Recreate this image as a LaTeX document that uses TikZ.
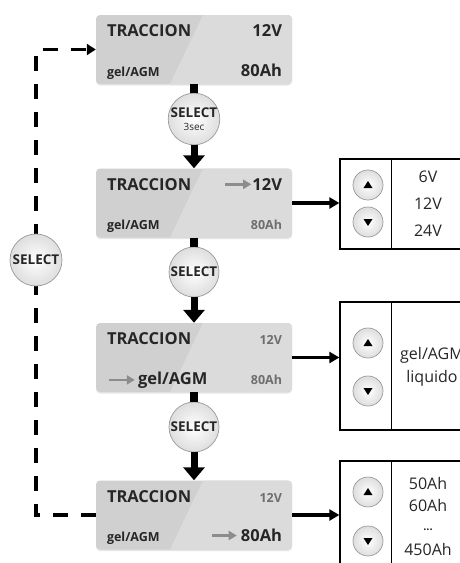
\documentclass[tikz,border=0pt]{standalone}
\usepackage{fontspec}
\setmainfont{Open Sans}
\usetikzlibrary{calc,shadows,arrows.meta}
\definecolor{boxgray}{HTML}{D0D0D0}
\definecolor{boxlight}{HTML}{DBDBDB}
\definecolor{txtdark}{HTML}{262626}
\definecolor{txtgray}{HTML}{6E6E6E}
\definecolor{ringgray}{HTML}{9A9A9A}
\definecolor{hintgray}{HTML}{8C8C8C}
\begin{document}
\begin{tikzpicture}[x=1pt,y=-1pt,
  lcd/.style={rectangle, rounded corners=4pt, minimum width=196pt, minimum height=69pt, inner sep=0pt, fill=boxgray,
    drop shadow={opacity=0.2, shadow xshift=0pt, shadow yshift=-1.5pt},
    path picture={\fill[boxlight, sharp corners] ($(path picture bounding box.north west)+(107,0)$) -- (path picture bounding box.north east) -- (path picture bounding box.south east) -- ($(path picture bounding box.south west)+(74,0)$) -- cycle;}},
  bigtxt/.style={inner sep=0pt, font=\fontsize{16.5}{18}\selectfont\bfseries, text=txtdark},
  smalltxt/.style={inner sep=0pt, font=\fontsize{12.5}{14}\selectfont\bfseries, text=txtdark},
  dimtxt/.style={smalltxt, text=txtgray},
  hint/.style={draw=hintgray, line width=2.8pt, -{Triangle[length=8pt,width=9pt]}},
  selbtn/.style={circle, minimum size=50pt, inner sep=0pt, draw=ringgray, line width=0.7pt, inner color=white, outer color=black!13,
    align=center, font=\fontsize{13.5}{12}\selectfont\bfseries, text=txtdark},
  stub/.style={line width=8pt},
  push/.style={line width=7pt, -{Triangle[length=13pt,width=21pt]}},
  link/.style={line width=3.5pt, -{Triangle[length=10pt,width=11pt]}},
  dashline/.style={line width=3.5pt, dash pattern=on 15pt off 13pt, -{Triangle[length=9pt,width=11pt]}},
  panel/.style={rectangle, draw, line width=1.3pt, inner sep=0pt, minimum width=132pt},
  btn/.style={circle, minimum size=30pt, inner sep=0pt, draw=ringgray, line width=0.7pt, inner color=white, outer color=black!13},
  upbtn/.style={btn, path picture={\fill[black] ($(path picture bounding box.center)+(-4.5,3)$) -- ($(path picture bounding box.center)+(4.5,3)$) -- ($(path picture bounding box.center)+(0,-4)$) -- cycle;}},
  downbtn/.style={btn, path picture={\fill[black] ($(path picture bounding box.center)+(-4.5,-3)$) -- ($(path picture bounding box.center)+(4.5,-3)$) -- ($(path picture bounding box.center)+(0,4)$) -- cycle;}},
  listtxt/.style={align=center, inner sep=0pt, text=txtdark}]
  \useasboundingbox (0,0) rectangle (459,563);

  % display states
  \node[lcd] (b1) at (194,49.5) {};
  \node[lcd] (b2) at (194,203) {};
  \node[lcd] (b3) at (194,357.5) {};
  \node[lcd] (b4) at (194,515) {};

  \node[bigtxt, anchor=base west] (b1mode) at ($(b1.north west)+(11,22)$) {TRACCION};
  \node[bigtxt, anchor=base east] (b1volt) at ($(b1.north east)+(-10,22)$) {12V};
  \node[smalltxt, anchor=base west] (b1type) at ($(b1.south west)+(11,-8)$) {gel/AGM};
  \node[bigtxt, anchor=base east] (b1cap) at ($(b1.south east)+(-10,-8)$) {80Ah};

  \node[bigtxt, anchor=base west] (b2mode) at ($(b2.north west)+(11,22)$) {TRACCION};
  \node[bigtxt, anchor=base east] (b2volt) at ($(b2.north east)+(-10,22)$) {12V};
  \node[smalltxt, anchor=base west] (b2type) at ($(b2.south west)+(11,-8)$) {gel/AGM};
  \node[dimtxt, anchor=base east] (b2cap) at ($(b2.south east)+(-10,-8)$) {80Ah};
  \draw[hint] ([xshift=-27pt]b2volt.west) -- ([xshift=-1pt]b2volt.west);

  \node[bigtxt, anchor=base west] (b3mode) at ($(b3.north west)+(11,22)$) {TRACCION};
  \node[dimtxt, anchor=base east] (b3volt) at ($(b3.north east)+(-10,22)$) {12V};
  \node[bigtxt, anchor=base west] (b3type) at ($(b3.south west)+(42,-8)$) {gel/AGM};
  \node[dimtxt, anchor=base east] (b3cap) at ($(b3.south east)+(-10,-8)$) {80Ah};
  \draw[hint] ([xshift=-29pt]b3type.west) -- ([xshift=-3pt]b3type.west);

  \node[bigtxt, anchor=base west] (b4mode) at ($(b4.north west)+(11,22)$) {TRACCION};
  \node[dimtxt, anchor=base east] (b4volt) at ($(b4.north east)+(-10,22)$) {12V};
  \node[smalltxt, anchor=base west] (b4type) at ($(b4.south west)+(11,-8)$) {gel/AGM};
  \node[bigtxt, anchor=base east] (b4cap) at ($(b4.south east)+(-10,-8)$) {80Ah};
  \draw[hint] ([xshift=-29pt]b4cap.west) -- ([xshift=-4pt]b4cap.west);

  % return loop
  \coordinate (loopx) at (36,260);
  \draw[dashline] (b4.west) -- (b4.west -| loopx) -- (b1.west -| loopx) -- (b1.west);
  \node[selbtn, minimum size=52pt] (sl) at (loopx) {SELECT};

  % select buttons
  \node[selbtn] (s1) at (194,119) {SELECT\\[0.5pt]{\fontsize{10}{10}\selectfont\mdseries 3sec}};
  \node[selbtn] (s2) at (194,272) {SELECT};
  \node[selbtn] (s3) at (194,427) {SELECT};
  \draw[stub] (b1.south) -- (s1.north);
  \draw[push] (s1.south) -- (b2.north);
  \draw[stub] (b2.south) -- (s2.north);
  \draw[push] (s2.south) -- (b3.north);
  \draw[stub] (b3.south) -- (s3.north);
  \draw[push] (s3.south) -- (b4.north);

  % option panels
  \node[panel, minimum height=90pt] (p1) at (406,204) {};
  \node[panel, minimum height=128pt] (p2) at (406,366) {};
  \node[panel, minimum height=119pt] (p3) at (406,520.5) {};
  \foreach \p in {p1,p2,p3}
    \draw[line width=1.3pt] ([xshift=52pt]\p.north west) -- ([xshift=52pt]\p.south west);
  \draw[link] (b2.east) -- (b2.east -| p1.west);
  \draw[link] (b3.east) -- (b3.east -| p2.west);
  \draw[link] (b4.east) -- (b4.east -| p3.west);

  \node[upbtn] (up1) at (368,185) {};
  \node[downbtn] (dn1) at (368,222) {};
  \node[upbtn] (up2) at (368,343) {};
  \node[downbtn] (dn2) at (368,391) {};
  \node[upbtn] (up3) at (368,492) {};
  \node[downbtn] (dn3) at (368,541) {};

  \node[listtxt, font=\fontsize{16}{27}\selectfont] (volts) at (428,204) {6V\\12V\\24V};
  \node[listtxt, font=\fontsize{16}{23}\selectfont] (types) at (432,367) {gel/AGM\\liquido};
  \node[listtxt, font=\fontsize{16}{22}\selectfont] (caps) at (428,516) {50Ah\\60Ah\\{\fontsize{11}{22}\selectfont\bfseries\raisebox{3pt}{...}}\\450Ah};
\end{tikzpicture}
\end{document}
